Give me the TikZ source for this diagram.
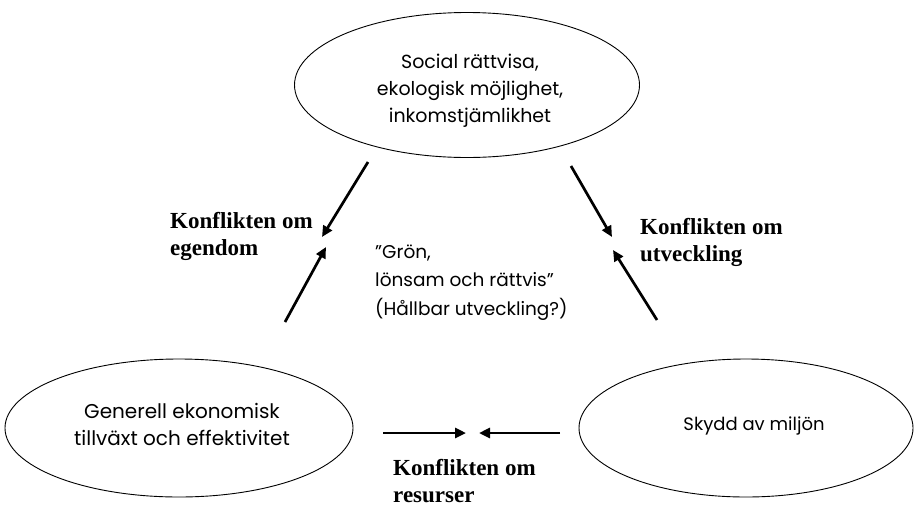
\documentclass[tikz,border=0pt]{standalone}
\usepackage{fontspec}
\setmainfont{Liberation Serif}
\newfontfamily\gothic{Poppins}
\usetikzlibrary{shapes.geometric,arrows.meta}
\tikzset{
  ell/.style={draw=black, line width=0.9pt, ellipse, inner sep=0pt},
  etext/.style={inner sep=0pt, align=center},
  conf/.style={font={\bfseries\fontsize{23}{27}\selectfont}, align=left, inner sep=0pt, anchor=base west},
  arr/.style={line width=2.7pt, -{Triangle[length=11pt,width=10pt]}}
}
\begin{document}
\begin{tikzpicture}[x=1pt,y=-1pt]
\useasboundingbox (0,0) rectangle (915,509);
\node[ell, minimum width=345pt, minimum height=145pt] (top) at (467,85) {};
\node[ell, minimum width=348pt, minimum height=138pt] (left) at (179,428) {};
\node[ell, minimum width=334pt, minimum height=138pt] (right) at (746,428) {};
\node[etext, anchor=base, font={\gothic\fontsize{19}{27}\selectfont}] (toptxt) at (470,122)
  {Social rättvisa,\\ekologisk möjlighet,\\inkomstjämlikhet};
\node[etext, anchor=base, font={\gothic\fontsize{20}{27}\selectfont}] (lefttxt) at (182,445)
  {Generell ekonomisk\\tillväxt och effektivitet};
\node[etext, anchor=base, font={\gothic\fontsize{18}{27}\selectfont}] (righttxt) at (754,430)
  {Skydd av miljön};
\node[anchor=base west, inner sep=0pt, align=left, font={\gothic\fontsize{18.5}{28.5}\selectfont}] (mid) at (375,315)
  {”Grön,\\lönsam och rättvis”\\(Hållbar utveckling?)};
\node[conf] (kl) at (170,255) {Konflikten om\\egendom};
\node[conf] (kr) at (640,261) {Konflikten om\\utveckling};
\node[conf] (kb) at (393,502) {Konflikten om\\resurser};
\coordinate (a1s) at (368,162); \coordinate (a1e) at (322,237);
\coordinate (a2s) at (285,322); \coordinate (a2e) at (326,247);
\coordinate (a3s) at (571,166); \coordinate (a3e) at (612,237);
\coordinate (a4s) at (657,320); \coordinate (a4e) at (613,250);
\coordinate (a5s) at (383,433); \coordinate (a5e) at (466,433);
\coordinate (a6s) at (560,433); \coordinate (a6e) at (479,433);
\draw[arr] (a1s) -- (a1e);
\draw[arr] (a2s) -- (a2e);
\draw[arr] (a3s) -- (a3e);
\draw[arr] (a4s) -- (a4e);
\draw[arr] (a5s) -- (a5e);
\draw[arr] (a6s) -- (a6e);
\end{tikzpicture}
\end{document}
